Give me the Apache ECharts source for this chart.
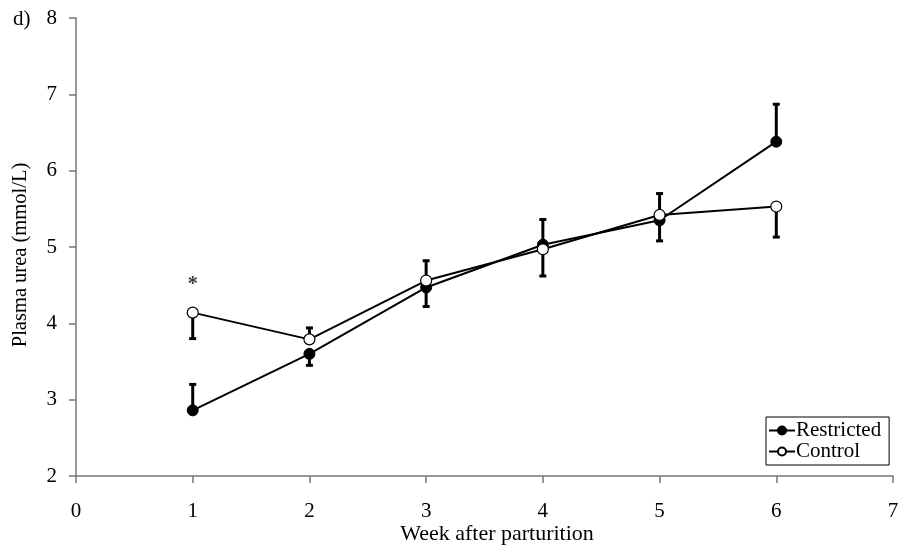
<!DOCTYPE html>
<html>
<head>
<meta charset="utf-8">
<script src="https://cdn.jsdelivr.net/npm/echarts@6/dist/echarts.min.js"></script>
<style>
html,body{margin:0;padding:0;background:#fff;}
#main{width:898px;height:548px;}
</style>
</head>
<body>
<div id="main"></div>
<script>
var weeks = [1, 2, 3, 4, 5, 6];
var restricted = [2.86, 3.60, 4.47, 5.03, 5.35, 6.38];
var restrictedErr = [3.20, 3.45, 4.22, 5.36, 5.08, 6.87];
var control = [4.14, 3.79, 4.56, 4.97, 5.42, 5.53];
var controlErr = [3.80, 3.94, 4.82, 4.62, 5.70, 5.13];
var xTicks = [0, 1, 2, 3, 4, 5, 6, 7];
var yTicks = [2, 3, 4, 5, 6, 7, 8];
var starPoint = [1, 4.56];

var font = 'Liberation Serif';
var myChart = echarts.init(document.getElementById('main'), null, {renderer: 'canvas'});

function pairs(xs, ys){
    var out = [];
    for (var i = 0; i < xs.length; i++) out.push([xs[i], ys[i]]);
    return out;
}
function errData(xs, ys, es){
    var out = [];
    for (var i = 0; i < xs.length; i++) out.push([xs[i], ys[i], es[i]]);
    return out;
}
function renderErr(params, api){
    var p0 = api.coord([api.value(0), api.value(1)]);
    var p1 = api.coord([api.value(0), api.value(2)]);
    var st = {stroke: '#000', lineWidth: 3};
    return {
        type: 'group',
        children: [
            {type: 'line', shape: {x1: p0[0], y1: p0[1], x2: p1[0], y2: p1[1]}, style: st},
            {type: 'line', shape: {x1: p1[0] - 3.5, y1: p1[1], x2: p1[0] + 3.5, y2: p1[1]}, style: st}
        ]
    };
}

var option = {
    animation: false,
    grid: {left: 76, right: 5, top: 18, bottom: 72, outerBoundsMode: 'none', containLabel: false},
    graphic: [
        {type: 'text', left: 13, top: 9, style: {text: 'd)', font: '21px "Liberation Serif"', fill: '#000'}},
        {type: 'text', x: 497, y: 534, style: {text: 'Week after parturition', font: '22px "Liberation Serif"', fill: '#000', align: 'center', verticalAlign: 'middle'}},
        {type: 'text', x: 21, y: 255, rotation: Math.PI / 2, style: {text: 'Plasma urea (mmol/L)', font: '20.5px "Liberation Serif"', fill: '#000', align: 'center', verticalAlign: 'middle'}}
    ],
    legend: {
        orient: 'vertical',
        left: 766,
        top: 417,
        itemGap: 0,
        itemWidth: 26,
        itemHeight: 10,
        padding: [3, 8, 3, 2],
        borderColor: '#000',
        borderWidth: 1,
        textStyle: {fontFamily: font, fontSize: 21, color: '#000', padding: [0, 0, 0, -4]},
        data: ['Restricted', 'Control']
    },
    xAxis: {
        type: 'value',
        min: 0, max: 7, interval: 1,
        axisLine: {lineStyle: {color: '#777', width: 1.5}},
        axisTick: {show: true, length: 7, lineStyle: {color: '#777', width: 1.5}},
        axisLabel: {fontFamily: font, fontSize: 21, color: '#000', margin: 25,
            formatter: function(v){ return xTicks.indexOf(v) >= 0 ? String(v) : ''; }},
        splitLine: {show: false}
    },
    yAxis: {
        type: 'value',
        min: 2, max: 8, interval: 1,
        axisLine: {show: true, lineStyle: {color: '#777', width: 1.5}},
        axisTick: {show: true, inside: false, length: 7, lineStyle: {color: '#777', width: 1.5}},
        axisLabel: {fontFamily: font, fontSize: 21, color: '#000', margin: 19,
            formatter: function(v){ return yTicks.indexOf(v) >= 0 ? String(v) : ''; }},
        splitLine: {show: false}
    },
    series: [
        {
            type: 'custom', name: 'resErr', renderItem: renderErr,
            data: errData(weeks, restricted, restrictedErr), z: 1, silent: true
        },
        {
            type: 'custom', name: 'conErr', renderItem: renderErr,
            data: errData(weeks, control, controlErr), z: 1, silent: true
        },
        {
            type: 'line', name: 'Restricted',
            data: pairs(weeks, restricted),
            symbol: 'circle', symbolSize: 11, showAllSymbol: true,
            lineStyle: {color: '#000', width: 2},
            itemStyle: {color: '#000', borderColor: '#000', borderWidth: 1},
            z: 3
        },
        {
            type: 'line', name: 'Control',
            data: pairs(weeks, control),
            symbol: 'circle', symbolSize: 11, showAllSymbol: true,
            lineStyle: {color: '#000', width: 2},
            itemStyle: {color: '#fff', borderColor: '#000', borderWidth: 1.2},
            z: 4
        },
        {
            type: 'scatter', name: 'star',
            data: [starPoint],
            symbolSize: 0,
            label: {show: true, position: 'inside', formatter: '*', fontFamily: font, fontSize: 20, fontWeight: 'bold', color: '#000', offset: [0, 4]},
            silent: true
        }
    ]
};
myChart.setOption(option);
</script>
</body>
</html>
